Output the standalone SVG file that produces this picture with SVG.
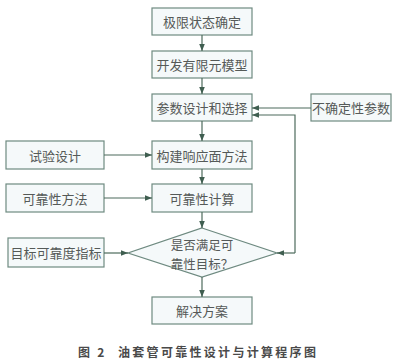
<svg xmlns="http://www.w3.org/2000/svg" width="400" height="364" viewBox="0 0 400 364">
<style>
.box{fill:#f5f9fa;stroke:#6e8a80;stroke-width:1.2}
.t{font-family:"Noto Sans CJK SC","Noto Sans",sans-serif;font-size:13px;fill:#555a58;text-anchor:middle;dominant-baseline:central}
.d{font-size:12.5px}
.c{fill:none;stroke:#4d6b5d;stroke-width:1.2}
.cap{font-family:"Noto Sans CJK SC","Noto Sans",sans-serif;font-size:12px;font-weight:bold;fill:#4a4a4a;letter-spacing:2.3px}
</style>
<defs>
<marker id="ah" viewBox="0 0 10 10" refX="10" refY="5" markerWidth="7" markerHeight="7" markerUnits="userSpaceOnUse" orient="auto">
<path d="M0,1 L10,5 L0,9 Z" fill="#3f5e50"/>
</marker>
</defs>
<rect width="400" height="364" fill="#ffffff"/>
<g id="n1"><rect class="box" x="152" y="8" width="100" height="27"/><text class="t" x="202" y="21.5">极限状态确定</text></g>
<g id="n2"><rect class="box" x="152" y="51" width="100" height="27"/><text class="t" x="202" y="64.5">开发有限元模型</text></g>
<g id="n3"><rect class="box" x="152" y="94" width="100" height="27"/><text class="t" x="202" y="107.5">参数设计和选择</text></g>
<g id="n4"><rect class="box" x="311" y="94" width="80" height="27"/><text class="t" x="351" y="107.5">不确定性参数</text></g>
<g id="n5"><rect class="box" x="152" y="141" width="100" height="28"/><text class="t" x="202" y="155">构建响应面方法</text></g>
<g id="n6"><rect class="box" x="6" y="141" width="98" height="28"/><text class="t" x="55" y="155">试验设计</text></g>
<g id="n7"><rect class="box" x="152" y="184" width="100" height="28"/><text class="t" x="202" y="198">可靠性计算</text></g>
<g id="n8"><rect class="box" x="6" y="184" width="98" height="28"/><text class="t" x="55" y="198">可靠性方法</text></g>
<g id="n9"><polygon class="box" points="202,228 277,253 202,277 128,253"/><text class="t d" x="202" y="244">是否满足可</text><text class="t d" x="202" y="263">靠性目标？</text></g>
<g id="n10"><rect class="box" x="8" y="238" width="96" height="29"/><text class="t" x="56" y="252.5">目标可靠度指标</text></g>
<g id="n11"><rect class="box" x="152" y="297" width="100" height="27"/><text class="t" x="202" y="310.5">解决方案</text></g>
<g id="connectors">
<line class="c" x1="202" y1="35" x2="202" y2="51" marker-end="url(#ah)"/>
<line class="c" x1="202" y1="78" x2="202" y2="94" marker-end="url(#ah)"/>
<line class="c" x1="202" y1="121" x2="202" y2="141" marker-end="url(#ah)"/>
<line class="c" x1="202" y1="169" x2="202" y2="184" marker-end="url(#ah)"/>
<line class="c" x1="202" y1="212" x2="202" y2="228" marker-end="url(#ah)"/>
<line class="c" x1="202" y1="277" x2="202" y2="297" marker-end="url(#ah)"/>
<line class="c" x1="311" y1="108" x2="252" y2="108" marker-end="url(#ah)"/>
<polyline class="c" points="295,253 295,115 252,115" marker-end="url(#ah)"/>
<line class="c" x1="295" y1="253" x2="277" y2="253" marker-end="url(#ah)"/>
<line class="c" x1="104" y1="155" x2="152" y2="155" marker-end="url(#ah)"/>
<line class="c" x1="104" y1="198" x2="152" y2="198" marker-end="url(#ah)"/>
<line class="c" x1="104" y1="253" x2="128" y2="253" marker-end="url(#ah)"/>
</g>
<text class="cap" x="78" y="357">图 2<tspan x="118">油套管可靠性设计与计算程序图</tspan></text>
</svg>
